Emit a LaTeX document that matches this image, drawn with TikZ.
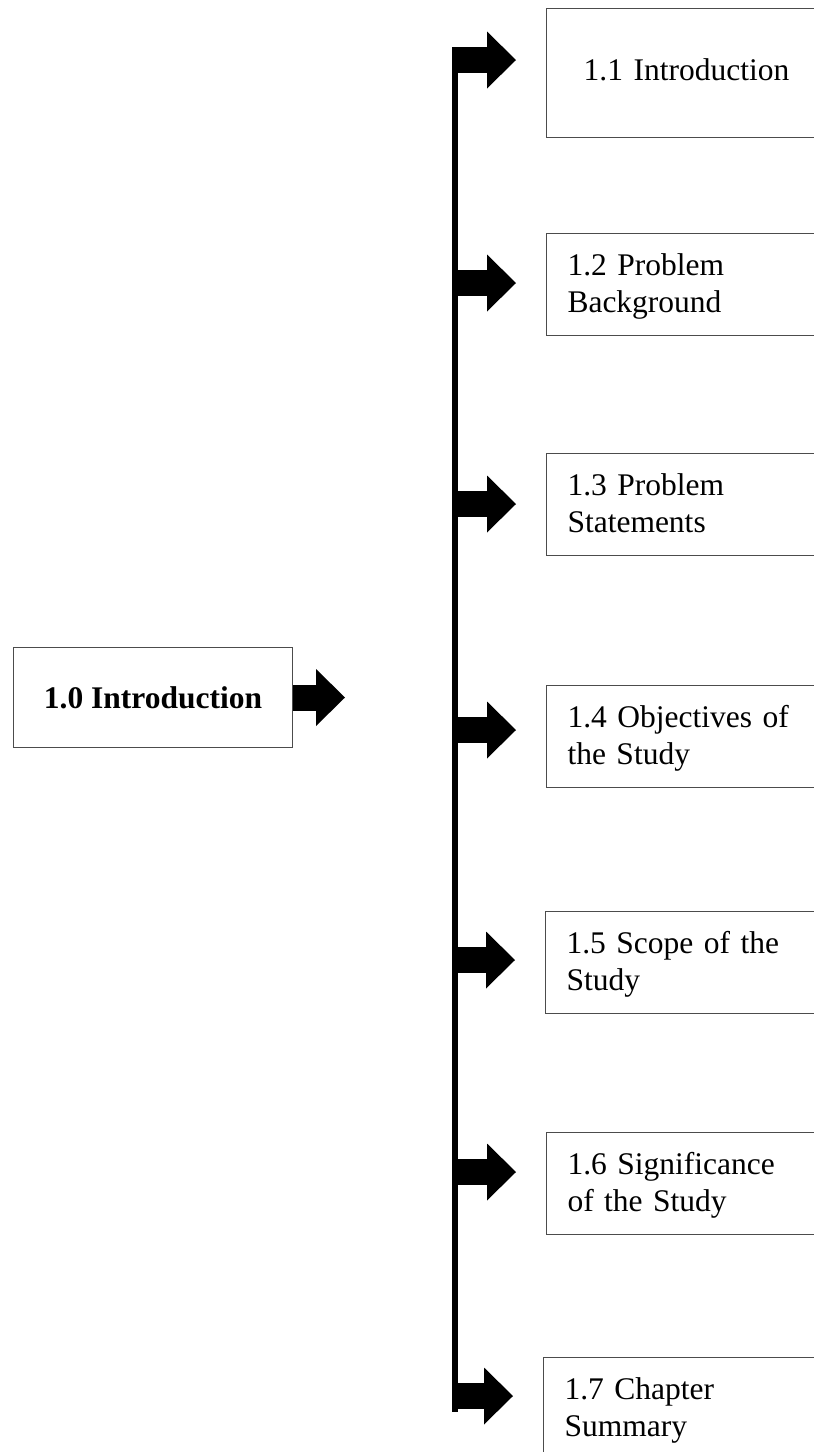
\documentclass[tikz,border=0pt]{standalone}
\usepackage{fontspec}
\setmainfont{Liberation Serif}
\usetikzlibrary{arrows.meta}

\begin{document}
\begin{tikzpicture}[x=1pt, y=-1pt,
	frame/.style={draw=black!70, line width=1pt, anchor=north west, font=\fontsize{31.5}{37}\selectfont},
	mainbox/.style={frame, minimum width=279pt, minimum height=100pt, text height=21.5pt, text depth=0pt, font=\fontsize{31.5}{37}\selectfont\bfseries},
	subbox/.style={frame, text width=238pt, align=left, inner xsep=21pt, inner ysep=20.5pt, text height=21.5pt, text depth=39.5pt},
	trunk/.style={line width=5.5pt},
	blockarr/.style={line width=26pt, -{Triangle[width=57pt, length=29pt, line width=0pt]}, shorten >=30pt}]

	\useasboundingbox (0,0) rectangle (814,1452);

	% Main box on the left
	\node [mainbox] (b0) at (13,647) {1.0 Introduction};

	% Section boxes
	\node [subbox, align=center, inner ysep=50.5pt, text depth=6.5pt] (b1) at (546,8) {1.1 Introduction};
	\node [subbox] (b2) at (546,233) {1.2 Problem\\Background};
	\node [subbox] (b3) at (546,453) {1.3 Problem\\Statements};
	\node [subbox] (b4) at (546,685) {1.4 Objectives of\\the Study};
	\node [subbox] (b5) at (545,911) {1.5 Scope of the\\Study};
	\node [subbox] (b6) at (546,1132) {1.6 Significance\\of the Study};
	\node [subbox] (b7) at (543,1357) {1.7 Chapter\\Summary};

	% Vertical line
	\coordinate (top) at (455,47);
	\coordinate (bot) at (455,1412);
	\draw [trunk] (top) -- (bot);

	% Points on the line
	\coordinate (a1) at (455,60);
	\coordinate (a2) at (455,283);
	\coordinate (a3) at (455,504);
	\coordinate (a4) at (455,730);
	\coordinate (a5) at (455,960);
	\coordinate (a6) at (455,1172);
	\coordinate (a7) at (455,1396);

	% Block arrows
	\draw [blockarr, shorten >=110pt] (b0.east) -- (b0.east -| top);
	\draw [blockarr] (a1) -- (a1 -| b1.west);
	\draw [blockarr] (a2) -- (a2 -| b2.west);
	\draw [blockarr] (a3) -- (a3 -| b3.west);
	\draw [blockarr] (a4) -- (a4 -| b4.west);
	\draw [blockarr] (a5) -- (a5 -| b5.west);
	\draw [blockarr] (a6) -- (a6 -| b6.west);
	\draw [blockarr] (a7) -- (a7 -| b7.west);

\end{tikzpicture}
\end{document}
